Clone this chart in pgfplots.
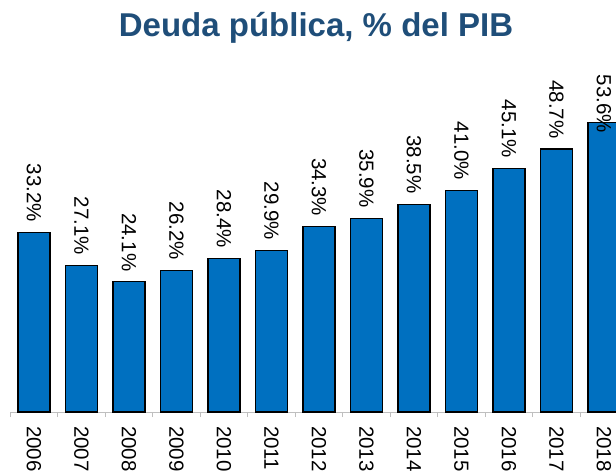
\documentclass[border=0pt]{standalone}
\usepackage{fontspec}
\setmainfont{Liberation Sans}
\usepackage{pgfplots}
\pgfplotsset{compat=1.18}
\definecolor{barblue}{RGB}{0,112,192}
\definecolor{titleblue}{RGB}{31,78,121}
\definecolor{axisgray}{RGB}{191,191,191}

\begin{document}
\begin{tikzpicture}
\begin{axis}[
  at={(10.25pt,60pt)}, anchor=south west,
  scale only axis, width=605.6pt, height=351pt,
  xmin=-0.5, xmax=12.25, ymin=0, ymax=65,
  ybar, bar width=0.674,
  axis x line*=bottom, hide y axis,
  x axis line style={-, draw=axisgray, line width=1pt},
  xtick={0,...,12},
  xticklabels={2006,2007,2008,2009,2010,2011,2012,2013,2014,2015,2016,2017,2018},
  minor xtick={-0.5,0.5,...,11.5},
  major tick length=0pt, minor tick length=5pt,
  tick align=outside,
  minor tick style={draw=axisgray, line width=1pt},
  xticklabel style={yshift=-14pt, rotate=-90, anchor=west, inner sep=0pt,
    font=\fontsize{20.5}{24}\selectfont},
  point meta=y,
  nodes near coords={\pgfmathprintnumber[fixed,fixed zerofill,precision=1,assume math mode=true]{\pgfplotspointmeta}\%},
  every node near coord/.append style={yshift=10pt, rotate=-90, anchor=east, inner sep=0pt,
    text=black, font=\fontsize{20.5}{24}\selectfont},
]
\addplot[fill=barblue, draw=black, line width=1.2pt, bar shift=0pt]
  coordinates {(0,33.2) (1,27.1) (2,24.1) (3,26.2) (4,28.4) (5,29.9) (6,34.3)
               (7,35.9) (8,38.5) (9,41.0) (10,45.1) (11,48.7)};
\addplot[fill=barblue, draw=black, line width=1.2pt, bar shift=0pt,
  every node near coord/.style={yshift=-11pt, rotate=-90, anchor=east, inner sep=0pt,
    text=black, font=\fontsize{20.5}{24}\selectfont}]
  coordinates {(12,53.6)};
\end{axis}
\node[anchor=base, text=titleblue, font=\bfseries\fontsize{33}{40}\selectfont]
  at (316pt,435pt) {Deuda pública, \% del PIB};
\pgfresetboundingbox
\useasboundingbox (0,0) rectangle (616pt,472pt);
\end{tikzpicture}
\end{document}
